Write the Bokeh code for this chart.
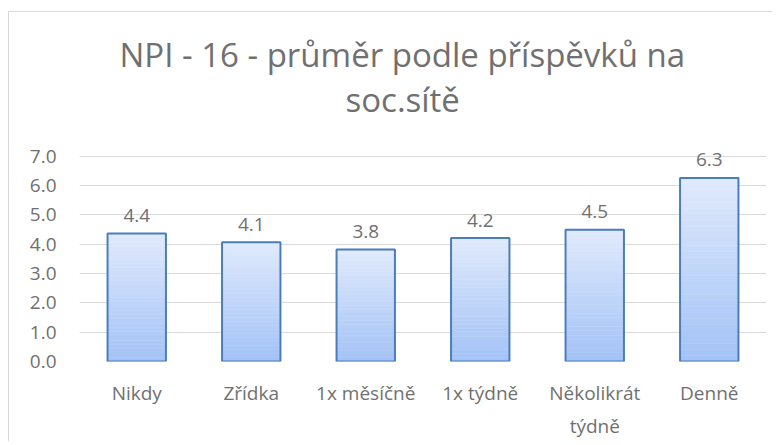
import numpy as np
from bokeh.plotting import figure
from bokeh.models import FactorRange, Range1d, FixedTicker, Title, CategoricalAxis, CustomJSTickFormatter
from bokeh.core.properties import value
from bokeh.embed import file_html
from bokeh.resources import INLINE

# ---- data ----
categories = ["Nikdy", "Zřídka", "1x měsíčně", "1x týdně", "Několikrát", "Denně"]
first_line_labels = ["Nikdy", "Zřídka", "1x měsíčně", "1x týdně", "Několikrát", "Denně"]
second_line_labels = ["", "", "", "", "týdně", ""]
values = [4.36, 4.07, 3.82, 4.21, 4.49, 6.26]
y_ticks = [0, 1, 2, 3, 4, 5, 6, 7]
title_line1 = "NPI - 16 - průměr podle příspěvků na"
title_line2 = "soc.sítě"

FONT = "Open Sans"
GRAY = "#707070"

p = figure(
    width=764, height=430,
    x_range=FactorRange(factors=categories, range_padding=0),
    y_range=Range1d(0, 7.535),
    output_backend="svg", toolbar_location=None,
    min_border_left=70, min_border_right=7, min_border_top=128, min_border_bottom=81,
)
p.margin = (11, 0, 0, 8)
p.styles = {"border-top": "1px solid #d9d9d9", "border-left": "1px solid #d9d9d9"}
p.title.visible = False
p.outline_line_color = None
p.background_fill_color = "white"
p.border_fill_color = "white"

# titles (first added is nearest to the plot); left-aligned with offsets so they
# are centred on the whole chart rather than on the plot frame
t2 = Title(text=title_line2, align="left", offset=266, text_font=FONT, text_font_size="33px",
           text_font_style="normal", text_color=GRAY, standoff=38)
t1 = Title(text=title_line1, align="left", offset=40, text_font=FONT, text_font_size="33px",
           text_font_style="normal", text_color=GRAY, standoff=-42)
p.add_layout(t2, "above")
p.add_layout(t1, "above")

# gradient bars
N = 30
xs, bottoms, tops, colors = [], [], [], []
c_bot = np.array([0xa3, 0xc2, 0xf6])
c_top = np.array([0xe0, 0xea, 0xfc])
for cat, v in zip(categories, values):
    for j in range(N):
        f = (j + 0.5) / N
        c = (c_bot + (c_top - c_bot) * f).round().astype(int)
        xs.append(cat)
        bottoms.append(v * j / N)
        tops.append(v * (j + 1) / N)
        colors.append("#%02x%02x%02x" % tuple(c))
p.vbar(x=xs, bottom=bottoms, top=tops, width=0.51, fill_color=colors, line_color=colors,
       line_width=0.5)
p.vbar(x=categories, top=values, width=0.51, fill_color=None,
       line_color="#4a7ebb", line_width=2)

# data labels
labels = [f"{v:.1f}" for v in values]
p.text(x=categories, y=values, text=labels, y_offset=-18, text_align="center",
       text_baseline="alphabetic", text_font=value(FONT), text_font_size="19px",
       text_color=GRAY)

# axes
p.yaxis.ticker = FixedTicker(ticks=y_ticks)
p.yaxis.formatter = CustomJSTickFormatter(code="return tick.toFixed(1);")

xaxis1 = p.xaxis[0]
xaxis1.formatter = CustomJSTickFormatter(
    args=dict(m=dict(zip(categories, first_line_labels))), code="return m[tick];")
xaxis2 = CategoricalAxis(formatter=CustomJSTickFormatter(
    args=dict(m=dict(zip(categories, second_line_labels))), code="return m[tick];"))
p.add_layout(xaxis2, "below")

for ax in (xaxis1, p.yaxis[0], xaxis2):
    ax.axis_line_color = None
    ax.major_tick_line_color = None
    ax.minor_tick_line_color = None
    ax.major_label_text_font = FONT
    ax.major_label_text_font_size = "19px"
    ax.major_label_text_color = GRAY
p.yaxis.major_label_standoff = 17
xaxis1.major_label_standoff = 12
xaxis2.major_label_standoff = -2

p.xgrid.grid_line_color = None
p.ygrid.ticker = FixedTicker(ticks=y_ticks)
p.ygrid.grid_line_color = "#d9d9d9"
p.ygrid.grid_line_width = 1

open("out.html", "w").write(file_html(p, INLINE))
